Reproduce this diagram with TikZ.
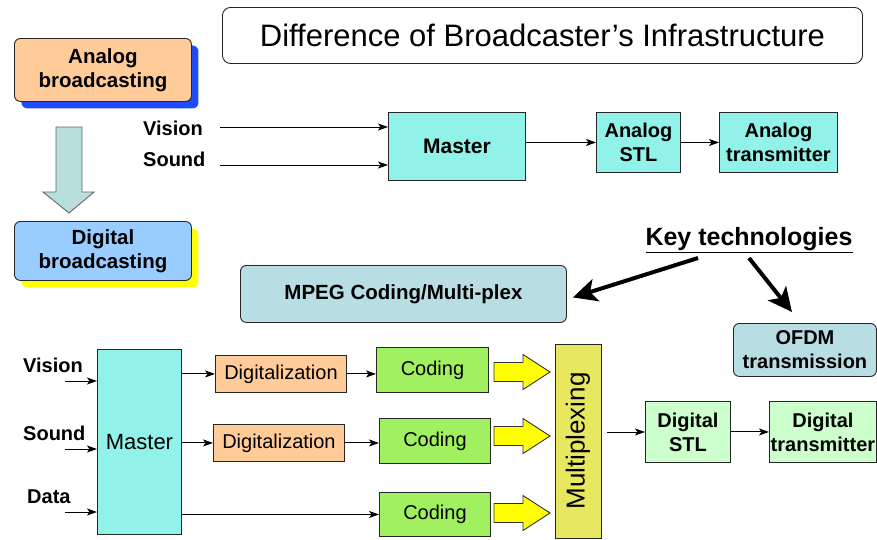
\documentclass[tikz,border=0pt]{standalone}
\usepackage{fontspec}
\setmainfont{Liberation Sans}
\usetikzlibrary{arrows.meta,shadows,calc}
\definecolor{peach}{RGB}{255,204,153}
\definecolor{shblue}{RGB}{30,75,255}
\definecolor{skyb}{RGB}{153,204,255}
\definecolor{shyel}{RGB}{255,255,0}
\definecolor{downfill}{RGB}{184,222,222}
\definecolor{aqua}{RGB}{144,242,232}
\definecolor{paleteal}{RGB}{184,222,227}
\definecolor{codegreen}{RGB}{160,240,96}
\definecolor{muxyel}{RGB}{232,232,96}
\definecolor{palegreen}{RGB}{204,255,204}
\definecolor{blockyel}{RGB}{255,255,0}
\newcommand{\yarrow}[3]{%
  \draw[blockarr] (#2,#3-9.5) -- ++(29,0) -- ++(0,-8) -- ++(27,17.5) -- ++(-27,17.5) -- ++(0,-8) -- ++(-29,0) -- cycle;
  \coordinate (#1) at (#2,#3);}
\begin{document}
\begin{tikzpicture}[x=1pt,y=-1pt,
  box/.style={draw=black!85, line width=0.9pt, inner sep=0pt, align=center, anchor=north west},
  bf/.style={font=\fontsize{20}{24}\selectfont\bfseries, align=center},
  rf/.style={font=\fontsize{20}{24}\selectfont, align=center},
  arr/.style={-{Stealth[length=10pt,width=7pt,inset=2.5pt]}, line width=1pt},
  bigarr/.style={-{Stealth[length=24pt,width=23pt,inset=6pt]}, line width=4pt},
  blockarr/.style={fill=blockyel, draw=black!80, line width=0.9pt},
  lbl/.style={font=\fontsize{20}{24}\selectfont\bfseries, anchor=west, inner sep=0pt}]
\useasboundingbox (0,0) rectangle (877,539);

% title
\node[box, rounded corners=8pt, minimum width=640pt, minimum height=56pt,
  font=\fontsize{31}{35}\selectfont] (title) at (222,7) {Difference of Broadcaster’s Infrastructure};

% left legend
\node[box, font=\fontsize{20.5}{24}\selectfont\bfseries, rounded corners=6pt, fill=peach, minimum width=177pt, minimum height=63pt,
  drop shadow={shadow xshift=7pt, shadow yshift=-7pt, fill=shblue, opacity=1}] (ab) at (14,38) {Analog\\broadcasting};
\draw[fill=downfill, draw=black!60, line width=0.9pt] (56,127) -- (82,127) -- (82,192) -- (94,192) -- (69,213) -- (43,192) -- (56,192) -- cycle;
\node[box, font=\fontsize{20.5}{24}\selectfont\bfseries, rounded corners=6pt, fill=skyb, minimum width=177pt, minimum height=59pt,
  drop shadow={shadow xshift=7pt, shadow yshift=-7pt, fill=shyel, opacity=1}] (db) at (14,221) {Digital\\broadcasting};

% analog chain
\node[lbl] (v1) at (143,128) {Vision};
\node[lbl] (s1) at (143,159) {Sound};
\coordinate (v1s) at (220,127);
\coordinate (s1s) at (220,165);
\node[box, fill=aqua, minimum width=137pt, minimum height=68pt, font=\fontsize{21}{24}\selectfont\bfseries] (m1) at (388,112) {Master};
\node[box, bf, fill=aqua, minimum width=84pt, minimum height=60pt] (stl1) at (596,112) {Analog\\STL};
\node[box, bf, fill=aqua, minimum width=118pt, minimum height=60pt] (tx1) at (719,112) {Analog\\transmitter};
\draw[arr] (v1s) -- (v1s -| m1.west);
\draw[arr] (s1s) -- (s1s -| m1.west);
\draw[arr] (m1.east |- stl1.west) -- (stl1.west);
\draw[arr] (stl1.east) -- (tx1.west);

% key technologies
\node[font=\fontsize{25}{29}\selectfont\bfseries, inner sep=0pt] (kt) at (749,240) {\underline{Key technologies}};
\node[box, rounded corners=6pt, fill=paleteal, minimum width=326pt, minimum height=57pt,
  font=\fontsize{20.5}{24}\selectfont\bfseries] (mpeg) at (240,265) {MPEG Coding/Multi-plex};
\node[box, bf, rounded corners=6pt, fill=paleteal, minimum width=143pt, minimum height=53pt] (ofdm) at (733,323) {OFDM\\transmission};
\coordinate (k1) at (698,258);
\coordinate (k2) at (749,258);
\draw[bigarr] (k1) -- ([xshift=6pt,yshift=-3.5pt]mpeg.east);
\draw[bigarr] (k2) -- ([xshift=-13pt,yshift=11pt]ofdm.north);

% digital chain
\node[lbl] (v2) at (23,365) {Vision};
\node[lbl] (s2) at (23,433) {Sound};
\node[lbl] (d2) at (27,497) {Data};
\coordinate (v2s) at (65,381);
\coordinate (s2s) at (65,449);
\coordinate (d2s) at (65,512);
\node[box, fill=aqua, minimum width=84pt, minimum height=185pt, font=\fontsize{22}{26}\selectfont] (m2) at (97,349) {Master};
\draw[arr] (v2s) -- (v2s -| m2.west);
\draw[arr] (s2s) -- (s2s -| m2.west);
\draw[arr] (d2s) -- (d2s -| m2.west);

\node[box, rf, fill=peach, minimum width=131pt, minimum height=37pt] (dg1) at (215,355) {Digitalization};
\node[box, rf, fill=codegreen, minimum width=112pt, minimum height=45pt] (cd1) at (376,347) {Coding};
\node[box, rf, fill=peach, minimum width=131pt, minimum height=37pt] (dg2) at (213,424) {Digitalization};
\node[box, rf, fill=codegreen, minimum width=111pt, minimum height=45pt] (cd2) at (379,418) {Coding};
\node[box, rf, fill=codegreen, minimum width=111pt, minimum height=44pt] (cd3) at (379,492) {Coding};
\draw[arr] (m2.east |- dg1.west) -- (dg1.west);
\draw[arr] (dg1.east) -- (dg1.east -| cd1.west);
\draw[arr] (m2.east |- dg2.west) -- (dg2.west);
\draw[arr] (dg2.east) -- (dg2.east -| cd2.west);
\draw[arr] (m2.east |- cd3.west) -- (cd3.west);

\yarrow{ya1}{494}{372}
\yarrow{ya2}{494}{436}
\yarrow{ya3}{494}{513}

\node[draw=black!85, line width=0.9pt, inner sep=0pt, fill=muxyel, rotate=90, minimum width=194pt, minimum height=46pt,
  font=\fontsize{26}{30}\selectfont] (mux) at (578,441) {Multiplexing};
\coordinate (mo) at (607,432);
\node[box, bf, fill=palegreen, minimum width=85pt, minimum height=61pt] (dstl) at (645,401) {Digital\\STL};
\node[box, bf, fill=palegreen, minimum width=107pt, minimum height=61pt] (dtx) at (769,401) {Digital\\transmitter};
\draw[arr] (mo) -- (mo -| dstl.west);
\draw[arr] (dstl.east) -- (dtx.west);
\end{tikzpicture}
\end{document}
